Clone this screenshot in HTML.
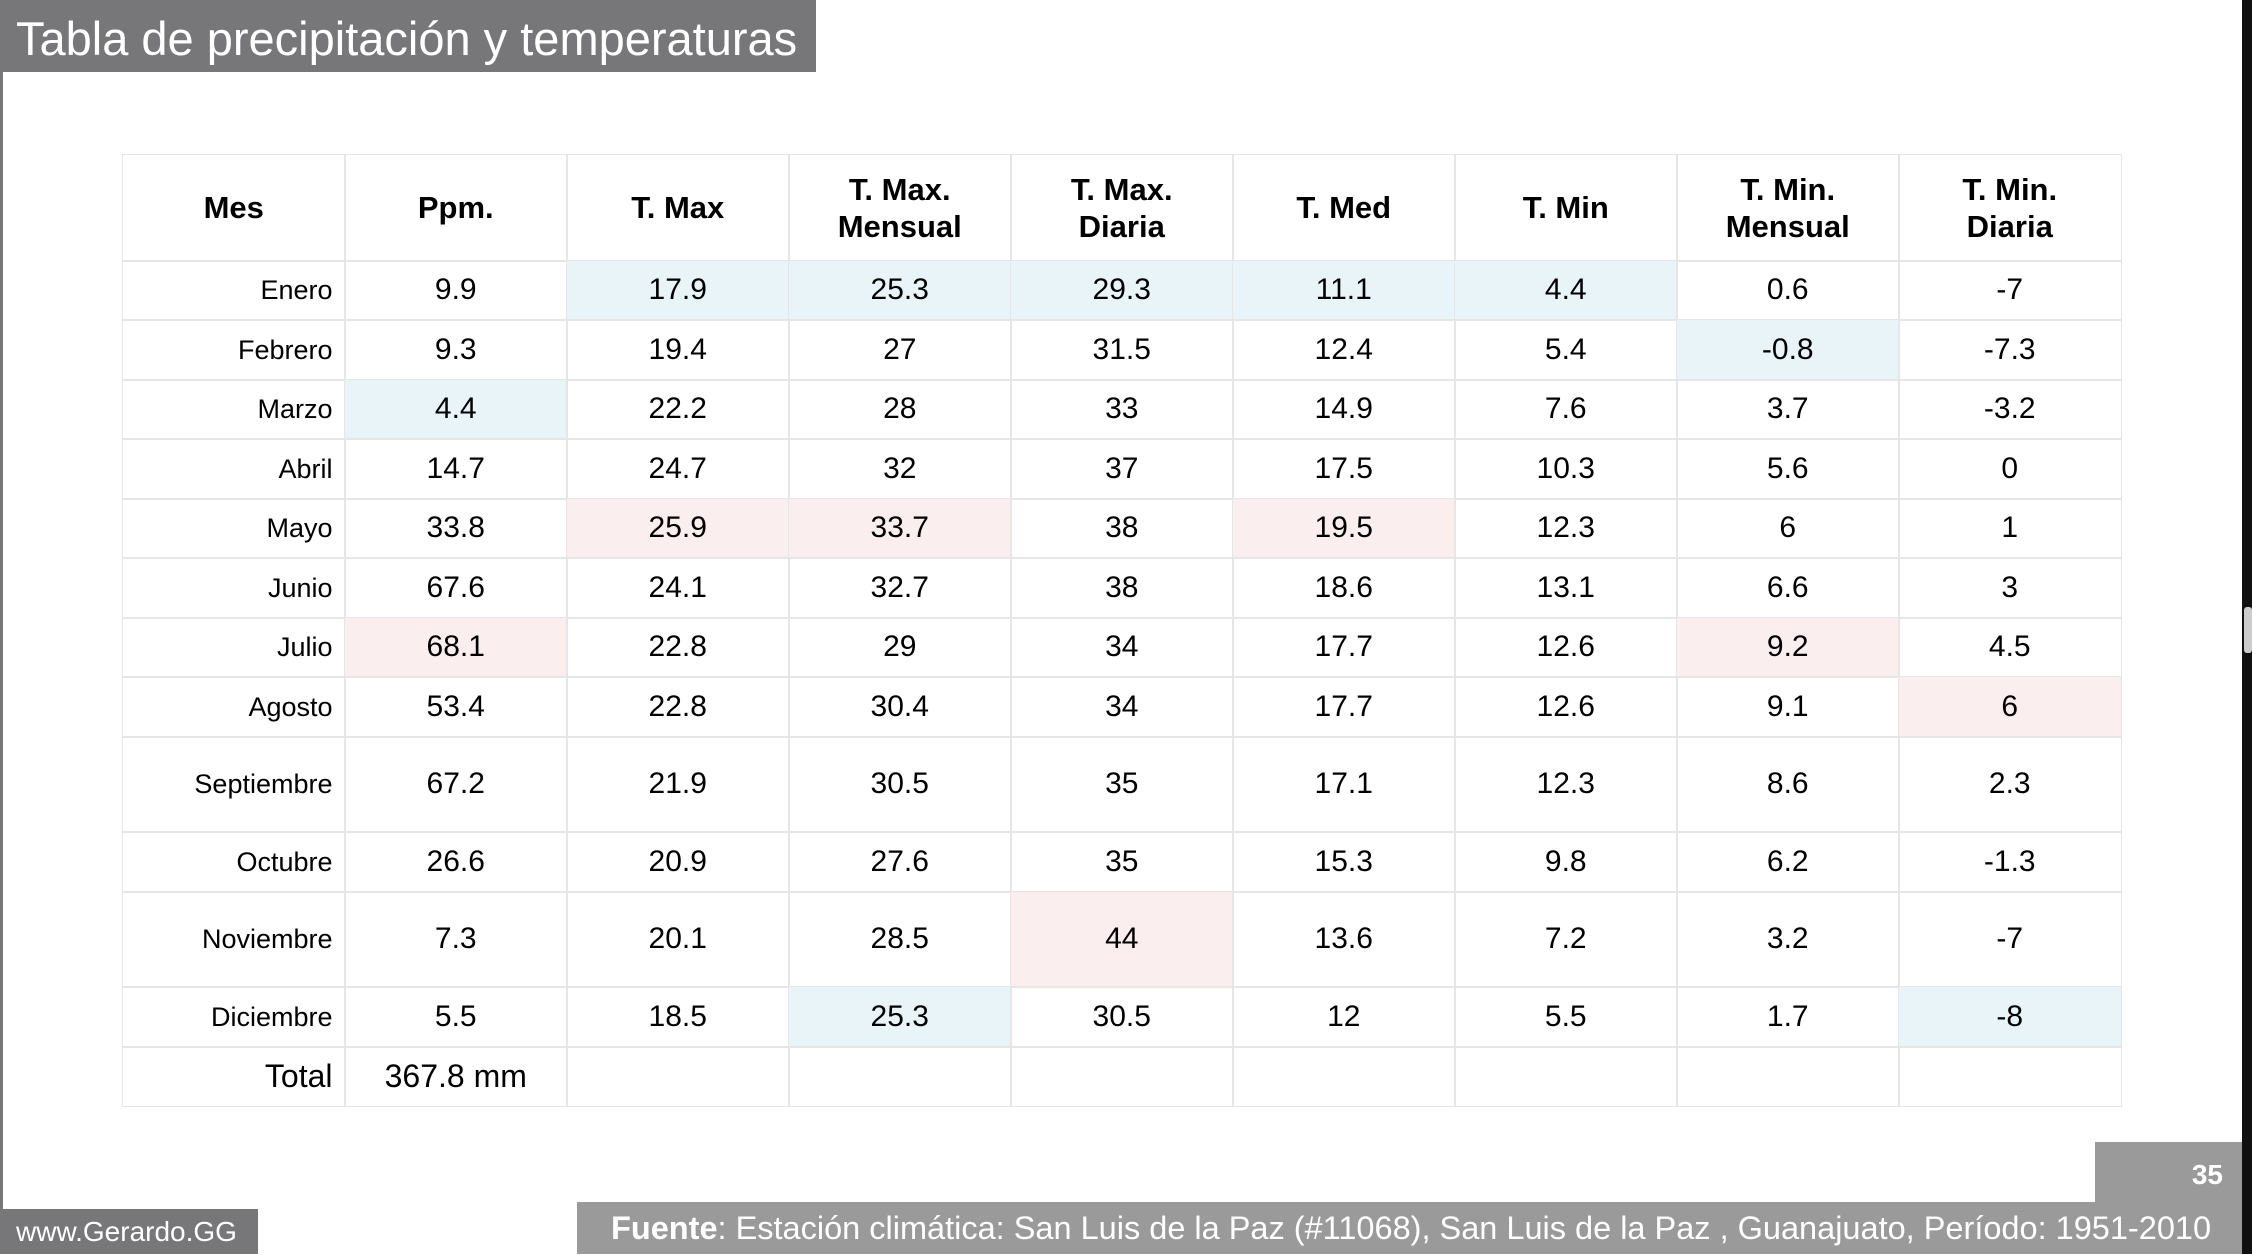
<!DOCTYPE html>
<html><head><meta charset="utf-8">
<style>
body{margin:0;width:2252px;height:1254px;background:#fff;position:relative;overflow:hidden;font-family:"Liberation Sans",Arial,sans-serif;}
.abs{position:absolute;}
#tbl{position:absolute;left:122px;top:154px;}
.cell{position:absolute;box-sizing:border-box;border:1.5px solid #e6e6e6;display:flex;align-items:center;justify-content:center;color:#000;font-size:30px;text-align:center;line-height:1.2;}
.hd{font-weight:bold;font-size:31px;}
.mes{justify-content:flex-end;padding-right:12px;font-size:27px;}
</style></head><body>
<div class="abs" style="left:0;top:0;width:3px;height:1254px;background:#777"></div>
<div class="abs" style="left:0;top:0;width:816px;height:72px;background:#777678;color:#fff;font-size:47px;line-height:78px;padding-left:16px;box-sizing:border-box;white-space:nowrap">Tabla de precipitación y temperaturas</div>
<div id="tbl"></div>
<div class="abs" style="left:2095px;top:1142px;width:148px;height:62px;background:#9a9a9b;color:#fff;font-weight:bold;font-size:28px;text-align:right;padding-right:20px;box-sizing:border-box;line-height:66px">35</div>
<div class="abs" style="left:577px;top:1202px;width:1666px;height:52px;background:#9a9a9b;color:#fff;font-size:32.5px;line-height:52px;padding-left:34px;box-sizing:border-box;white-space:nowrap"><b>Fuente</b>: Estación climática: San Luis de la Paz (#11068), San Luis de la Paz , Guanajuato, Período: 1951-2010</div>
<div class="abs" style="left:0;top:1209px;width:258px;height:45px;background:#777678;color:#fff;font-size:28px;line-height:46px;padding-left:16px;box-sizing:border-box">www.Gerardo.GG</div>
<div class="abs" style="left:2242px;top:0;width:10px;height:1254px;background:#111"></div>
<div class="abs" style="left:2244px;top:607px;width:8px;height:46px;background:#ccc;border-radius:3px"></div>
<script>
const headers=["Mes","Ppm.","T. Max","T. Max.<br>Mensual","T. Max.<br>Diaria","T. Med","T. Min","T. Min.<br>Mensual","T. Min.<br>Diaria"];
const months=["Enero","Febrero","Marzo","Abril","Mayo","Junio","Julio","Agosto","Septiembre","Octubre","Noviembre","Diciembre"];
const ppm=["9.9","9.3","4.4","14.7","33.8","67.6","68.1","53.4","67.2","26.6","7.3","5.5"];
const tmax=["17.9","19.4","22.2","24.7","25.9","24.1","22.8","22.8","21.9","20.9","20.1","18.5"];
const tmaxMens=["25.3","27","28","32","33.7","32.7","29","30.4","30.5","27.6","28.5","25.3"];
const tmaxDia=["29.3","31.5","33","37","38","38","34","34","35","35","44","30.5"];
const tmed=["11.1","12.4","14.9","17.5","19.5","18.6","17.7","17.7","17.1","15.3","13.6","12"];
const tmin=["4.4","5.4","7.6","10.3","12.3","13.1","12.6","12.6","12.3","9.8","7.2","5.5"];
const tminMens=["0.6","-0.8","3.7","5.6","6","6.6","9.2","9.1","8.6","6.2","3.2","1.7"];
const tminDia=["-7","-7.3","-3.2","0","1","3","4.5","6","2.3","-1.3","-7","-8"];
const lowCells=[[0,2],[0,3],[0,4],[0,5],[0,6],[1,7],[2,1],[11,3],[11,8]];
const highCells=[[4,2],[4,3],[4,5],[6,1],[6,7],[7,8],[10,4]];
const rowHeights=[106,59,60,59,60,59,60,59,60,95,60,95,60,59];
const colW=222;
const cols=[ppm,tmax,tmaxMens,tmaxDia,tmed,tmin,tminMens,tminDia];
const tbl=document.getElementById('tbl');
function mk(x,y,w,h,html,cls,bg){const d=document.createElement('div');d.className='cell '+cls;d.style.left=x+'px';d.style.top=y+'px';d.style.width=(w+1.5)+'px';d.style.height=(h+1.5)+'px';if(bg)d.style.background=bg;d.innerHTML=html;tbl.appendChild(d);return d;}
let y=0;
headers.forEach((h,c)=>{const d=mk(c*colW,y,colW,rowHeights[0],h,'hd');

});
y+=rowHeights[0];
months.forEach((m,r)=>{const h=rowHeights[r+1];
const d=mk(0,y,colW,h,m,'mes');


cols.forEach((arr,ci)=>{const c=ci+1;let bg=null;
if(lowCells.some(p=>p[0]==r&&p[1]==c))bg='#e8f4f8';
if(highCells.some(p=>p[0]==r&&p[1]==c))bg='#fbeeee';
const e=mk(c*colW,y,colW,h,arr[r],'',bg);

});
y+=h;});
const th=rowHeights[13];
const t0=mk(0,y,colW,th,'Total','mes');t0.style.fontSize='32px';


const t1=mk(colW,y,colW,th,'367.8 mm','');t1.style.fontSize='32px';


for(let c=2;c<9;c++){const e=mk(c*colW,y,colW,th,'','');

}
</script>
</body></html>
